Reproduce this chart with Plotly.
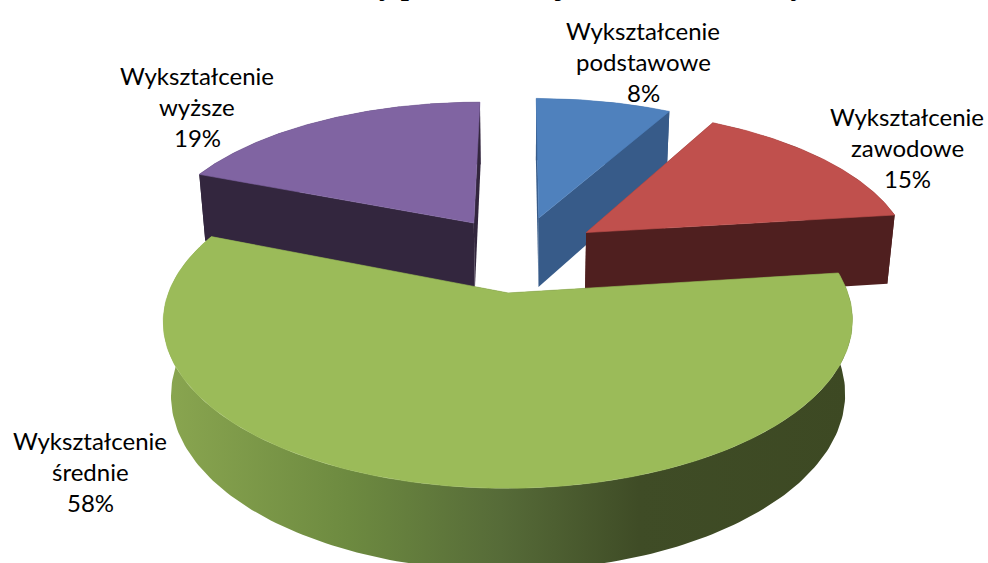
import numpy as np
import plotly.graph_objects as go

# ---------------- data ----------------
categories = ["Wykształcenie podstawowe", "Wykształcenie zawodowe",
              "Wykształcenie średnie", "Wykształcenie wyższe"]
values = [8, 15, 58, 19]
title_text = "Struktura kadry pracowniczej w zależności od wykształcenia"

# ---------------- style ----------------
top_colors = ["#4f81bd", "#c0504d", "#9bbb59", "#8064a2"]
side_colors = ["#375b89", "#4f1f1f", "#3f4c26", "#33263e"]
green_side_scale = [[0.0, "#8aa650"], [0.27, "#6d8a40"], [0.49, "#566b38"],
                    [0.69, "#3f4c26"], [1.0, "#3d4923"]]
label_pos = [(643, 30), (907, 116), (90, 440), (197, 75)]
line_gap = 31

W, H = 988, 563
CX, CY = 519, 253.5        # screen position of pie centre
K = 1792                   # projection scale
DIST = 5.5                 # camera distance (pie radius = 1)
ALPHA = np.radians(27.3)   # elevation
EXPLODE = 0.255
DEPTH = 0.25
S, C = np.sin(ALPHA), np.cos(ALPHA)


def proj(X, Y, Z):
    X, Y, Z = np.asarray(X, float), np.asarray(Y, float), np.asarray(Z, float)
    d = DIST - Y * S + Z * C
    sx = X / d
    sy = (Y * C + Z * S) / d
    return CX + K * sx, CY - K * sy


fig = go.Figure()

total = float(sum(values))
fr = np.array(values) / total
starts = np.concatenate([[0], np.cumsum(fr)[:-1]]) * 2 * np.pi
ends = np.cumsum(fr) * 2 * np.pi
mids = (starts + ends) / 2

# draw far slices first
order = sorted(range(len(values)), key=lambda i: -np.cos(mids[i]))

for i in order:
    t1, t2, b = starts[i], ends[i], mids[i]
    vx, vz = EXPLODE * np.sin(b), EXPLODE * np.cos(b)
    th = np.linspace(t1, t2, 200)
    ax_, az_ = vx + np.sin(th), vz + np.cos(th)
    # outer wall
    xt, yt = proj(ax_, 0 * th, az_)
    xb, yb = proj(ax_, 0 * th - DEPTH, az_)
    wx = np.concatenate([xt, xb[::-1], xt[:1]])
    wy = np.concatenate([yt, yb[::-1], yt[:1]])
    kw = dict(x=wx, y=wy, mode="lines", fill="toself", line=dict(width=0),
              hoverinfo="skip", fillcolor=side_colors[i])
    if i == 2:
        kw["fillgradient"] = dict(type="horizontal", colorscale=green_side_scale)
    fig.add_trace(go.Scatter(**kw))
    # radial walls
    for t in (t1, t2):
        px = [vx, vx + np.sin(t), vx + np.sin(t), vx, vx]
        pz = [vz, vz + np.cos(t), vz + np.cos(t), vz, vz]
        py = [0, 0, -DEPTH, -DEPTH, 0]
        rx, ry = proj(px, py, pz)
        fig.add_trace(go.Scatter(x=rx, y=ry, mode="lines", fill="toself",
                                 line=dict(width=0), hoverinfo="skip",
                                 fillcolor=side_colors[i]))
    # top face
    vxs, vys = proj([vx], [0], [vz])
    fx = np.concatenate([vxs, xt, vxs])
    fy = np.concatenate([vys, yt, vys])
    fig.add_trace(go.Scatter(x=fx, y=fy, mode="lines", fill="toself",
                             line=dict(width=0.6, color=top_colors[i]),
                             hoverinfo="skip", fillcolor=top_colors[i]))

# labels
annotations = []
for i, cat in enumerate(categories):
    lines = cat.split(" ") + [f"{values[i]}%"]
    lx, ly = label_pos[i]
    for j, txt in enumerate(lines):
        annotations.append(dict(x=lx, y=ly + j * line_gap, xref="x", yref="y",
                                text=txt, showarrow=False, xanchor="center",
                                yanchor="middle",
                                font=dict(family="Lato", size=24, color="#000000")))

annotations.append(dict(x=565, y=3, xref="x", yref="y", text=f"<b>{title_text}</b>",
                        showarrow=False, xanchor="center", yanchor="bottom",
                        font=dict(family="Liberation Serif", size=29, color="#000000")))

fig.update_layout(
    width=W, height=H, margin=dict(l=0, r=0, t=0, b=0),
    paper_bgcolor="white", plot_bgcolor="white", showlegend=False,
    xaxis=dict(range=[0, W], visible=False, fixedrange=True),
    yaxis=dict(range=[H, 0], visible=False, fixedrange=True),
    annotations=annotations,
)

fig.write_html("out.html", config={"displayModeBar": False},
               post_script="document.body.style.margin='0px';")
